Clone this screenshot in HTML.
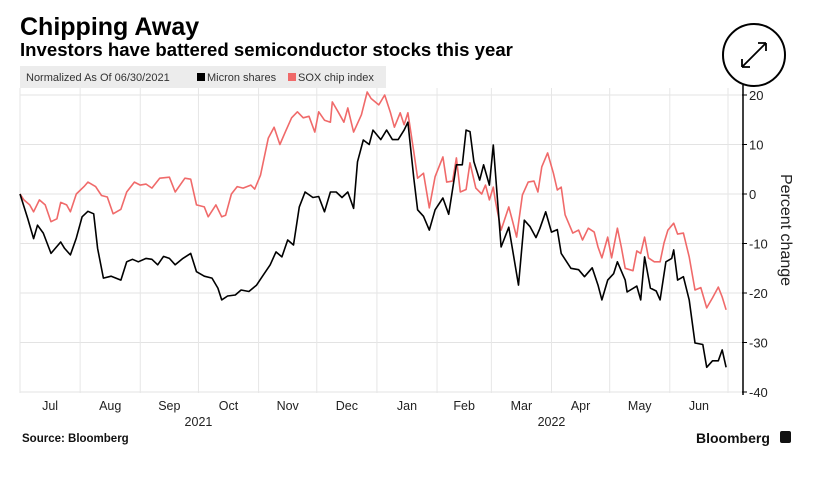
<!DOCTYPE html>
<html><head><meta charset="utf-8">
<style>
body{margin:0;background:#fff;width:832px;height:495px;overflow:hidden;font-family:"Liberation Sans",sans-serif}
#c{position:absolute;left:0;top:0}
</style></head>
<body>
<svg id="c" width="832" height="495" viewBox="0 0 832 495" xmlns="http://www.w3.org/2000/svg">
<text x="20" y="35" font-size="25" font-weight="bold" fill="#000">Chipping Away</text>
<text x="20" y="56" font-size="18.6" font-weight="bold" fill="#000">Investors have battered semiconductor stocks this year</text>
<g>
<circle cx="754" cy="55" r="31" fill="#fff" stroke="#000" stroke-width="2"/>
<path d="M742 67 L766 43 M766 43 L758 43 M766 43 L766 51 M742 67 L750 67 M742 67 L742 59" stroke="#000" stroke-width="1.8" fill="none"/>
</g>
<g>
<rect x="20" y="66" width="366" height="22" fill="#ececec"/>
<text x="26" y="81" font-size="11" fill="#333">Normalized As Of 06/30/2021</text>
<rect x="197" y="73" width="8" height="8" fill="#000"/>
<text x="207" y="81" font-size="11" fill="#333">Micron shares</text>
<rect x="288" y="73" width="8" height="8" fill="#f06a6a"/>
<text x="298" y="81" font-size="11" fill="#333">SOX chip index</text>
</g>
<g id="grid"></g>
<g id="axes"></g>
<g id="series"></g>
<text transform="translate(781,230) rotate(90)" text-anchor="middle" font-size="16" fill="#222">Percent change</text>
<text x="22" y="442" font-size="11.5" font-weight="bold" fill="#111">Source: Bloomberg</text>
<text x="696" y="443" font-size="14" font-weight="bold" fill="#111">Bloomberg</text>
<rect x="780" y="431" width="11" height="12" rx="2" fill="#111"/>
</svg>
<script>
const yTicks=[20,10,0,-10,-20,-30,-40];
const monthLabels=["Jul","Aug","Sep","Oct","Nov","Dec","Jan","Feb","Mar","Apr","May","Jun"];
const monthStartDays=[0,31,62,92,123,153,184,215,243,274,304,335,365];
const yearLabels=["2021","2022"];
const micronDays=[0,4,7,9,12,16,21,23,26,29,32,35,38,40,43,47,52,55,58,61,65,68,71,74,77,80,84,88,91,95,99,102,104,107,111,114,118,122,125,129,132,135,138,141,144,147,151,154,157,160,163,166,169,172,174,177,180,182,186,189,192,195,198,200,203,205,208,211,214,218,221,225,228,230,232,234,237,239,242,244,248,252,257,260,263,266,268,271,274,277,279,284,288,291,295,298,300,303,306,308,312,313,318,320,322,325,328,330,333,336,337,339,342,345,348,352,354,357,360,362,364];
const micronValues=[0,-5,-9,-6.3,-7.9,-12,-9.7,-11,-12.3,-8.9,-4.6,-3.5,-4,-11,-17,-16.6,-17.4,-13.7,-13.2,-13.7,-13,-13.2,-14.3,-12.6,-13,-14.3,-13,-12,-15.7,-16.6,-17,-19,-21.4,-20.6,-20.4,-19.4,-19.7,-18.4,-16.6,-14.3,-11.7,-12.7,-9.3,-10.3,-2.6,0.4,-0.7,-0.5,-3.6,0.4,0.4,-0.7,0.4,-2.9,6.5,10.9,10,12.9,11,12.9,11,11,12.9,14.5,3.2,-3.2,-4.5,-7.3,-3.2,-0.8,-4.1,5.9,5.9,12.9,12.6,6.5,2.8,5.9,1.8,9.9,-10.7,-6.7,-18.4,-5.3,-6.6,-8.8,-7,-3.6,-7.7,-7.2,-12,-15,-15.3,-16.7,-14.9,-18.4,-21.4,-17.4,-16.1,-13.7,-17.4,-19.8,-18.6,-21.4,-12.7,-19,-19.6,-21.4,-13.7,-13,-11.3,-17.4,-16.7,-21.4,-30.1,-30.4,-35,-33.7,-33.7,-31.5,-35];
const soxDays=[0,2,5,7,10,13,16,19,21,24,26,29,33,35,39,42,45,48,52,55,59,62,65,68,72,77,80,85,88,91,95,97,101,104,106,109,112,115,119,121,124,128,131,134,137,140,143,146,149,152,154,157,160,161,164,167,169,172,176,179,181,185,188,191,193,196,198,200,203,205,208,211,214,218,220,223,225,227,230,232,235,238,240,242,244,245,248,252,254,256,259,262,265,267,269,272,275,277,279,281,285,288,290,293,296,298,300,303,305,308,310,312,316,318,320,322,324,327,330,332,334,337,339,342,345,348,351,354,357,360,362,364];
const soxValues=[0,-1.2,-2.2,-3.6,-1.2,-2.2,-5.6,-5,-1.7,-2.2,-3.6,0,1.5,2.4,1.5,-0.3,-0.6,-4,-3.1,0.4,2.4,1.8,2,1.2,3.2,3.4,0.4,3.2,3,-2.2,-2.6,-4.6,-2.2,-4.6,-4.3,0,1.5,1.2,1.8,1,3.8,11.3,13.5,10,12.7,15.4,16.6,15.4,15.7,12.5,16.6,14.9,14.5,18.6,16.6,14.5,17.4,12.5,16,20.6,19.3,18,20,16.4,13.5,16.4,14,16.4,8.5,3.2,4.2,-2.8,3.5,7.5,2.4,2.6,7.3,0.4,0.9,6.3,1.2,0,1.8,-1.2,1.4,-1.2,-7.3,-2.6,-5.6,-8.7,-0.2,2.4,2.6,0.4,5.5,8.3,4.2,0.8,1.4,-4.2,-7.9,-7.3,-9.3,-6.9,-7.7,-10.7,-12.9,-8.7,-12.9,-6.9,-10.7,-15,-15.5,-11.5,-12,-8.7,-12.9,-13.7,-13.7,-9.9,-7.3,-5.9,-8.1,-7.9,-12.7,-19.4,-18.9,-23,-21,-18.8,-20.8,-23.4];

const NS="http://www.w3.org/2000/svg";
const X0=20,X1=728,Y0=194,PPU=4.95;
function xScale(d){return X0+(X1-X0)*d/365;}
function yScale(v){return Y0-v*PPU;}
function mk(tag,attrs,parent){const e=document.createElementNS(NS,tag);for(const k in attrs)e.setAttribute(k,attrs[k]);parent.appendChild(e);return e;}
const grid=document.getElementById('grid'),axes=document.getElementById('axes'),series=document.getElementById('series');
yTicks.forEach(t=>{
  const gl=mk('line',{x1:X0,x2:742,y1:yScale(t),y2:yScale(t),stroke:'#e3e3e3','stroke-width':1},grid);
  
  
  mk('line',{x1:742,x2:747,y1:yScale(t),y2:yScale(t),stroke:'#000','stroke-width':1},axes);
  const tx=mk('text',{x:749,y:yScale(t)+5,'font-size':13,fill:'#222'},axes);
  tx.textContent=(t<0?'-':'')+Math.abs(t);
  
  
});
mk('line',{x1:743,x2:743,y1:85,y2:395,stroke:'#000','stroke-width':1.5},axes);
monthStartDays.forEach(d=>{
  const vl=mk('line',{x1:xScale(d),x2:xScale(d),y1:88,y2:393,stroke:'#e6e6e6','stroke-width':1},grid);
  
  
});
monthLabels.forEach((m,i)=>{
  const cx=(xScale(monthStartDays[i])+xScale(monthStartDays[i+1]))/2;
  const t=mk('text',{x:cx,y:410,'font-size':12.5,fill:'#222','text-anchor':'middle'},axes);
  t.textContent=m;
  
  
});
[[monthStartDays[3],yearLabels[0]],[monthStartDays[9],yearLabels[1]]].forEach(([d,l])=>{
  const t=mk('text',{x:xScale(d),y:426,'font-size':12.5,fill:'#222','text-anchor':'middle'},axes);
  t.textContent=l;
  
  
});
function line(days,vals,color,name){
  const d=days.map((dd,i)=>(i?'L':'M')+xScale(dd).toFixed(1)+' '+yScale(vals[i]).toFixed(1)).join(' ');
  const p=mk('path',{d:d,fill:'none',stroke:color,'stroke-width':1.6,'stroke-linejoin':'round'},series);
  
  
}
line(soxDays,soxValues,'#f06a6a','sox-line');
line(micronDays,micronValues,'#000','micron-line');
</script>
</body></html>
